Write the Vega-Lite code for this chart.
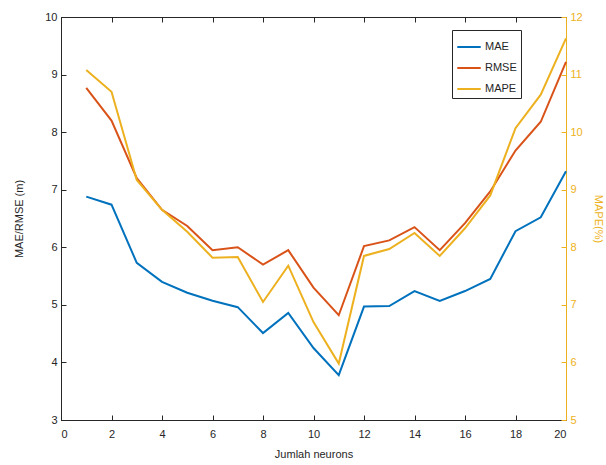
{
  "$schema": "https://vega.github.io/schema/vega-lite/v6.json",
  "width": 505,
  "height": 403,
  "autosize": "none",
  "padding": {"left": 61, "top": 17, "right": 40, "bottom": 45},
  "background": "white",
  "config": {
    "view": {"stroke": "#262626", "strokeWidth": 1},
    "font": "Liberation Sans",
    "axis": {"grid": false, "labelFont": "Liberation Sans", "titleFont": "Liberation Sans", "labelFontSize": 11, "titleFontSize": 11, "titleFontWeight": "normal", "labelColor": "#262626", "titleColor": "#262626", "domainColor": "#262626", "tickColor": "#262626", "tickSize": -5, "labelPadding": 9}
  },
  "data": {"values": [
    {"n":1,"m":"MAE","v":6.88},{"n":2,"m":"MAE","v":6.74},{"n":3,"m":"MAE","v":5.73},{"n":4,"m":"MAE","v":5.40},{"n":5,"m":"MAE","v":5.21},{"n":6,"m":"MAE","v":5.07},{"n":7,"m":"MAE","v":4.96},{"n":8,"m":"MAE","v":4.51},{"n":9,"m":"MAE","v":4.86},{"n":10,"m":"MAE","v":4.25},{"n":11,"m":"MAE","v":3.78},{"n":12,"m":"MAE","v":4.97},{"n":13,"m":"MAE","v":4.98},{"n":14,"m":"MAE","v":5.24},{"n":15,"m":"MAE","v":5.07},{"n":16,"m":"MAE","v":5.24},{"n":17,"m":"MAE","v":5.45},{"n":18,"m":"MAE","v":6.28},{"n":19,"m":"MAE","v":6.52},{"n":20,"m":"MAE","v":7.32},
    {"n":1,"m":"RMSE","v":8.77},{"n":2,"m":"RMSE","v":8.2},{"n":3,"m":"RMSE","v":7.2},{"n":4,"m":"RMSE","v":6.65},{"n":5,"m":"RMSE","v":6.37},{"n":6,"m":"RMSE","v":5.95},{"n":7,"m":"RMSE","v":6.0},{"n":8,"m":"RMSE","v":5.7},{"n":9,"m":"RMSE","v":5.95},{"n":10,"m":"RMSE","v":5.3},{"n":11,"m":"RMSE","v":4.82},{"n":12,"m":"RMSE","v":6.02},{"n":13,"m":"RMSE","v":6.12},{"n":14,"m":"RMSE","v":6.35},{"n":15,"m":"RMSE","v":5.95},{"n":16,"m":"RMSE","v":6.42},{"n":17,"m":"RMSE","v":6.97},{"n":18,"m":"RMSE","v":7.68},{"n":19,"m":"RMSE","v":8.18},{"n":20,"m":"RMSE","v":9.22},
    {"n":1,"m":"MAPE","v":11.08},{"n":2,"m":"MAPE","v":10.7},{"n":3,"m":"MAPE","v":9.17},{"n":4,"m":"MAPE","v":8.65},{"n":5,"m":"MAPE","v":8.27},{"n":6,"m":"MAPE","v":7.82},{"n":7,"m":"MAPE","v":7.83},{"n":8,"m":"MAPE","v":7.05},{"n":9,"m":"MAPE","v":7.68},{"n":10,"m":"MAPE","v":6.7},{"n":11,"m":"MAPE","v":5.98},{"n":12,"m":"MAPE","v":7.85},{"n":13,"m":"MAPE","v":7.97},{"n":14,"m":"MAPE","v":8.25},{"n":15,"m":"MAPE","v":7.85},{"n":16,"m":"MAPE","v":8.33},{"n":17,"m":"MAPE","v":8.9},{"n":18,"m":"MAPE","v":10.07},{"n":19,"m":"MAPE","v":10.65},{"n":20,"m":"MAPE","v":11.63}
  ]},
  "encoding": {
    "x": {"field": "n", "type": "quantitative", "scale": {"domain": [0, 20], "nice": false},
      "axis": {"values": [0,2,4,6,8,10,12,14,16,18,20], "title": "Jumlah neurons", "labelPadding": 13, "titlePadding": 9}},
    "color": {"field": "m", "type": "nominal", "sort": ["MAE","RMSE","MAPE"],
      "scale": {"domain": ["MAE","RMSE","MAPE"], "range": ["#0072BD","#D95319","#EDB120"]},
      "legend": {"title": null, "orient": "none", "legendX": 391, "legendY": 13, "fillColor": "white", "strokeColor": "#262626", "padding": 4, "symbolType": "stroke", "symbolStrokeWidth": 2, "symbolSize": 550, "labelFontSize": 11, "labelColor": "#262626", "labelOffset": 3, "rowPadding": 3}}
  },
  "layer": [
    {
      "transform": [{"filter": "datum.m !== 'MAPE'"}],
      "mark": {"type": "line", "strokeWidth": 2},
      "encoding": {
        "y": {"field": "v", "type": "quantitative", "scale": {"domain": [3, 10], "nice": false},
          "axis": {"values": [3,4,5,6,7,8,9,10], "title": "MAE/RMSE (m)", "titlePadding": 20}}
      }
    },
    {
      "transform": [{"filter": "datum.m === 'MAPE'"}],
      "mark": {"type": "line", "strokeWidth": 2},
      "encoding": {
        "x": {"field": "n", "type": "quantitative", "scale": {"domain": [0, 20], "nice": false},
          "axis": {"orient": "top", "values": [0,2,4,6,8,10,12,14,16,18,20], "labels": false, "title": null, "domain": false}},
        "y": {"field": "v", "type": "quantitative", "scale": {"domain": [5, 12], "nice": false},
          "axis": {"orient": "right", "values": [5,6,7,8,9,10,11,12], "title": "MAPE(%)", "titlePadding": 10, "labelColor": "#EDB120", "titleColor": "#EDB120", "domainColor": "#EDB120", "tickColor": "#EDB120"}}
      }
    }
  ],
  "resolve": {"scale": {"y": "independent"}, "axis": {"x": "independent"}}
}
